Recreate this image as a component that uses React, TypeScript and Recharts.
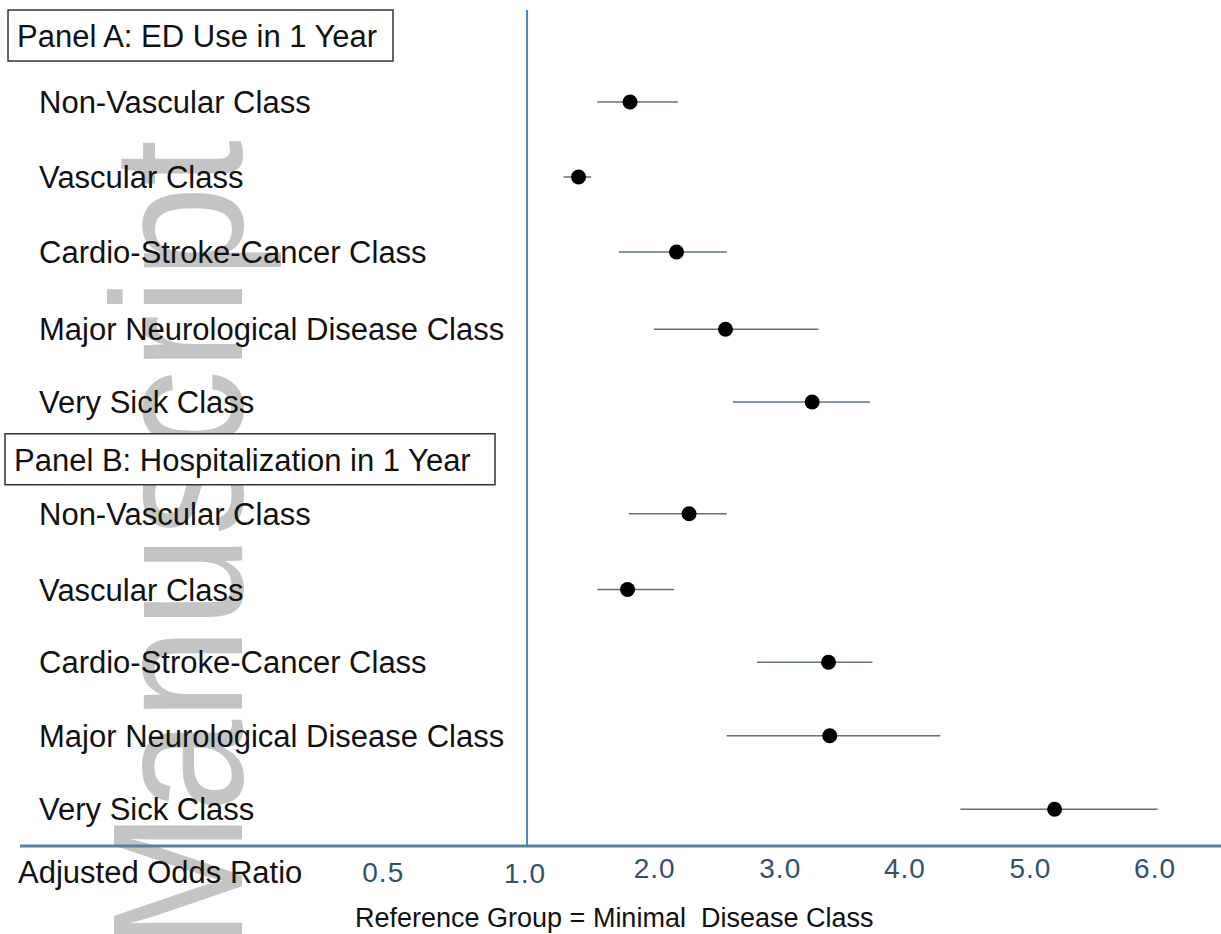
import {
  ComposedChart,
  Customized,
  ErrorBar,
  ReferenceLine,
  Scatter,
  XAxis,
  YAxis,
} from "recharts";

const FONT = "'Liberation Sans', Arial, sans-serif";

const CLASSES = [
  "Non-Vascular Class",
  "Vascular Class",
  "Cardio-Stroke-Cancer Class",
  "Major Neurological Disease Class",
  "Very Sick Class",
];
const PANELS = ["Panel A: ED Use in 1 Year", "Panel B: Hospitalization in 1 Year"];
const PANEL_POS = [0.12, 5.77];
const ROW_POS_A = [1, 2, 3, 4.03, 5];
const ROW_POS_B = [6.49, 7.5, 8.47, 9.45, 10.43];

// Panel A: ED use
const ED_OR = [1.82, 1.41, 2.19, 2.58, 3.27];
const ED_LOW = [1.56, 1.29, 1.73, 2.01, 2.64];
const ED_HIGH = [2.2, 1.51, 2.59, 3.32, 3.73];

// Panel B: hospitalization
const HOSP_OR = [2.29, 1.8, 3.4, 3.41, 5.2];
const HOSP_LOW = [1.81, 1.56, 2.83, 2.59, 4.45];
const HOSP_HIGH = [2.59, 2.17, 3.75, 4.29, 6.02];

const X_TICKS = [0.5, 1, 2, 3, 4, 5, 6];

type Row = { label: string; pos: number; or: number; err: [number, number] };

const rows: Row[] = [
  ...CLASSES.map((label, i) => ({
    label,
    pos: ROW_POS_A[i],
    or: ED_OR[i],
    err: [ED_OR[i] - ED_LOW[i], ED_HIGH[i] - ED_OR[i]] as [number, number],
  })),
  ...CLASSES.map((label, i) => ({
    label,
    pos: ROW_POS_B[i],
    or: HOSP_OR[i],
    err: [HOSP_OR[i] - HOSP_LOW[i], HOSP_HIGH[i] - HOSP_OR[i]] as [number, number],
  })),
];

const yTicks = [PANEL_POS[0], ...ROW_POS_A, PANEL_POS[1], ...ROW_POS_B];

function labelFor(v: number): { text: string; panel: boolean } {
  const p = PANEL_POS.indexOf(v);
  if (p >= 0) return { text: PANELS[p], panel: true };
  const r = rows.find((d) => d.pos === v);
  return { text: r ? r.label : "", panel: false };
}

// label placement quirks of the original figure
const TICK_DX: Record<string, number> = { "0.5": -81, "1": -2, "2": 2, "3": 2, "4": 1, "5": 1, "6": 0 };
const TICK_BASE: Record<string, number> = { "0.5": 882, "1": 883 };

function YTick(props: any) {
  const { y, payload } = props;
  const { text, panel } = labelFor(payload.value);
  if (panel) {
    const isA = payload.value === PANEL_POS[0];
    const bx = isA ? 8 : 5;
    const bw = isA ? 385 : 490;
    return (
      <g>
        <rect x={bx} y={y - 26} width={bw} height={51} fill="#fff" stroke="#333" strokeWidth={1.5} />
        <text x={bx + 9} y={y + 11} fontSize={31} fill="#111" fontFamily={FONT}>
          {text}
        </text>
      </g>
    );
  }
  return (
    <text x={39} y={y + 11} fontSize={31} fill="#111" fontFamily={FONT}>
      {text}
    </text>
  );
}

function XTick(props: any) {
  const { x, payload } = props;
  const k = String(payload.value);
  return (
    <text
      x={x + (TICK_DX[k] ?? 0)}
      y={TICK_BASE[k] ?? 878}
      textAnchor="middle"
      fontSize={28}
      letterSpacing={1}
      fill="#34506f"
      fontFamily={FONT}
    >
      {payload.value.toFixed(1)}
    </text>
  );
}

function AxisTitles() {
  return (
    <g fontFamily={FONT} fill="#111">
      <text x={18} y={883} fontSize={31}>
        Adjusted Odds Ratio
      </text>
      <text x={355} y={927} fontSize={27} xmlSpace="preserve">
        Reference Group = Minimal  Disease Class
      </text>
    </g>
  );
}

function Dot(props: any) {
  const { cx, cy } = props;
  return <circle cx={cx} cy={cy} r={7.5} fill="#000" />;
}

export default function App() {
  return (
    <div style={{ position: "absolute", left: 0, top: 0, width: 1221, height: 934, background: "#fff" }}>
      <svg width={1221} height={934} style={{ position: "absolute", left: 0, top: 0 }}>
        <text
          transform="translate(242, 950) rotate(-90)"
          fontSize={185}
          textLength={810}
          lengthAdjust="spacingAndGlyphs"
          fontFamily={FONT}
          fill="#c4c4c4"
        >
          Manuscript
        </text>
      </svg>
      <div style={{ position: "absolute", left: 0, top: 0 }}>
        <ComposedChart
          width={1221}
          height={934}
          data={rows}
          margin={{ top: 10, right: 0, bottom: 0, left: 19 }}
        >
          <XAxis
            type="number"
            dataKey="or"
            domain={[-3.037, 6.525]}
            ticks={X_TICKS}
            interval={0}
            allowDataOverflow
            height={88}
            tickLine={false}
            axisLine={{ stroke: "#5b7fa6", strokeWidth: 3 }}
            tick={<XTick />}
          />
          <YAxis
            type="number"
            dataKey="pos"
            domain={[-0.227, 10.92]}
            reversed
            ticks={yTicks}
            interval={0}
            allowDataOverflow
            width={1}
            tickLine={false}
            axisLine={false}
            tick={<YTick />}
          />
          <ReferenceLine x={1} stroke="#4f81bd" strokeWidth={2} />
          <Scatter dataKey="pos" shape={<Dot />} isAnimationActive={false}>
            <ErrorBar dataKey="err" direction="x" width={0} stroke="#5d7183" strokeWidth={1.5} />
          </Scatter>
          <Customized component={AxisTitles} />
        </ComposedChart>
      </div>
    </div>
  );
}
